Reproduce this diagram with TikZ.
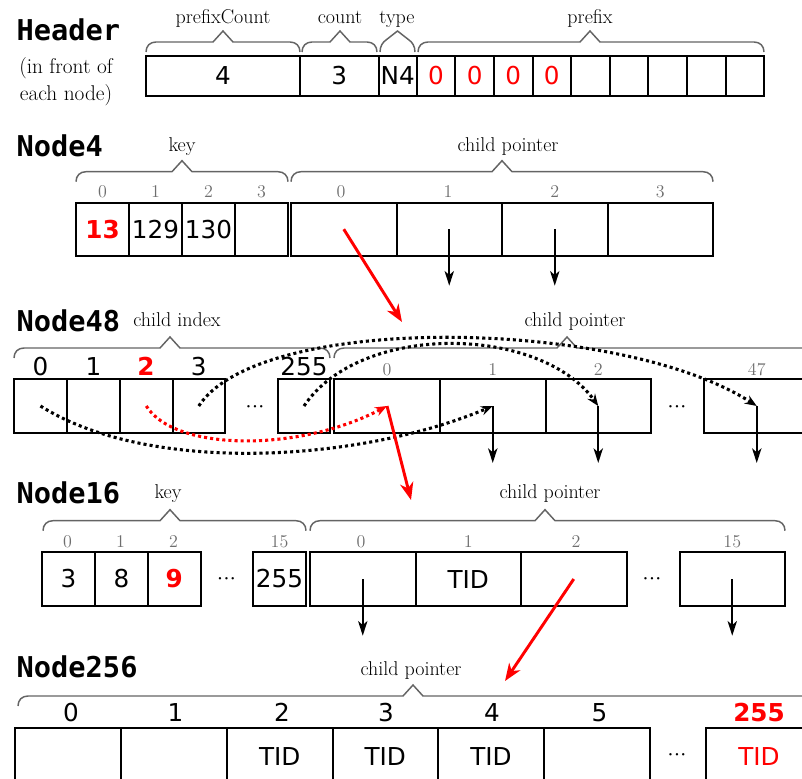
\documentclass[tikz,border=0pt]{standalone}
\usepackage{fontspec}
\usetikzlibrary{arrows.meta}
\newfontfamily\dvs{DejaVu Sans}
\newfontfamily\dvsm{DejaVu Sans Mono}
\definecolor{bgray}{RGB}{100,100,100}
\definecolor{igray}{RGB}{110,110,110}
\newcommand\cel[7][]{\node[cell,minimum width={(#4-#2)*0.75pt},minimum height={(#5-#3)*0.75pt},#1] (#6) at ({(#2+#4)/2},{(#3+#5)/2}) {#7};}
\newcommand\mybrace[4]{\draw[brc] (#1,#4+10) .. controls (#1,#4+4) and (#1+4,#4) .. (#1+10,#4) -- (#3-10,#4) -- (#3,#4-11) -- (#3+10,#4) -- (#2-10,#4) .. controls (#2-4,#4) and (#2,#4+4) .. (#2,#4+10);}
\newcommand\mydots{$\mathord{\cdot}\mathord{\cdot}\mathord{\cdot}$}
\tikzset{
  cell/.style={draw, line width=1.5pt, inner sep=0pt, font=\dvs\fontsize{18.5}{20}\selectfont},
  ttl/.style={anchor=base west, font=\dvsm\bfseries\fontsize{21.5}{24}\selectfont},
  lbl/.style={anchor=base, inner sep=0pt, font=\fontsize{15}{17}\selectfont},
  idx/.style={anchor=base, inner sep=0pt, text=igray, font=\fontsize{13.5}{15}\selectfont},
  bidx/.style={anchor=base, inner sep=0pt, font=\dvs\fontsize{18.5}{20}\selectfont},
  hot/.style={text=red, font=\dvs\bfseries\fontsize{18.5}{20}\selectfont},
  dts/.style={inner sep=0pt, font=\fontsize{18}{18}\selectfont},
  brc/.style={draw=bgray, line width=1.1pt},
  ptr/.style={line width=1.4pt, -{Stealth[length=11pt,width=7pt,inset=3pt]}},
  redarr/.style={red, line width=2.2pt, -{Stealth[length=13pt,width=10pt,inset=4pt]}},
  dotarr/.style={line width=2.3pt, dash pattern=on 2.3pt off 2.3pt, -{Stealth[length=9pt,width=7pt,inset=3pt]}}
}
\begin{document}
\begin{tikzpicture}[x=0.75pt,y=-0.75pt]
\path[use as bounding box] (0,0) rectangle (802,778);
\clip (0,0) rectangle (802,778);
% ---------- Header ----------
\node[ttl] (tHeader) at (12,40) {Header};
\node[align=center, inner sep=0pt, font=\fontsize{16}{20}\selectfont] (hnote) at (66,82) {(in front of\\each node)};
\cel{146}{56}{300}{95.5}{h0}{4}
\cel{300}{56}{378.6}{95.5}{h1}{3}
\cel{378.6}{56}{416.7}{95.5}{h2}{N4}
\cel[text=red]{416.7}{56}{455.3}{95.5}{hp0}{0}
\cel[text=red]{455.3}{56}{493.9}{95.5}{hp1}{0}
\cel[text=red]{493.9}{56}{532.5}{95.5}{hp2}{0}
\cel[text=red]{532.5}{56}{571.1}{95.5}{hp3}{0}
\cel{571.1}{56}{609.7}{95.5}{hp4}{}
\cel{609.7}{56}{648.3}{95.5}{hp5}{}
\cel{648.3}{56}{686.9}{95.5}{hp6}{}
\cel{686.9}{56}{725.5}{95.5}{hp7}{}
\cel{725.5}{56}{764.1}{95.5}{hp8}{}
\mybrace{146}{300}{223}{42}
\mybrace{302}{377}{340}{42}
\draw[brc] (380,52) .. controls (380,46) and (383,42) .. (386,40) -- (397.5,31) -- (409,40) .. controls (412,42) and (415,46) .. (415,52);
\mybrace{418}{764}{590}{42}
\node[lbl] (lpc) at (223,23) {prefixCount};
\node[lbl] (lcnt) at (340,23) {count};
\node[lbl] (ltype) at (397,23) {type};
\node[lbl] (lpre) at (590,23) {prefix};
% ---------- Node4 ----------
\node[ttl] (tN4) at (12,156) {Node4};
\cel[hot]{76}{202.7}{129}{255.7}{n4k0}{13}
\cel{129}{202.7}{182}{255.7}{n4k1}{129}
\cel{182}{202.7}{235}{255.7}{n4k2}{130}
\cel{235}{202.7}{288}{255.7}{n4k3}{}
\cel{291}{202.7}{396.5}{255.7}{n4p0}{}
\cel{396.5}{202.7}{502}{255.7}{n4p1}{}
\cel{502}{202.7}{607.5}{255.7}{n4p2}{}
\cel{607.5}{202.7}{713}{255.7}{n4p3}{}
\mybrace{76}{288}{182}{171.7}
\mybrace{291}{713}{502}{171.7}
\node[lbl] (lk4) at (182,151.7) {key};
\node[lbl] (lcp4) at (508,151.7) {child pointer};
\node[idx] (i4k0) at (102.5,197.3) {0};
\node[idx] (i4k1) at (155.5,197.3) {1};
\node[idx] (i4k2) at (208.5,197.3) {2};
\node[idx] (i4k3) at (261.5,197.3) {3};
\node[idx] (i4p0) at (341,197.3) {0};
\node[idx] (i4p1) at (448,197.3) {1};
\node[idx] (i4p2) at (554.75,197.3) {2};
\node[idx] (i4p3) at (660.25,197.3) {3};
% ---------- Node48 ----------
\node[ttl] (tN48) at (12,331.7) {Node48};
\cel{14}{379.3}{67}{432.7}{n48i0}{}
\cel{67}{379.3}{120}{432.7}{n48i1}{}
\cel{120}{379.3}{172.5}{432.7}{n48i2}{}
\cel{172.5}{379.3}{225}{432.7}{n48i3}{}
\node[dts] (d48a) at (255,407) {\mydots};
\cel{278}{379.3}{330}{432.7}{n48i255}{}
\cel{334}{379.3}{440}{432.7}{n48p0}{}
\cel{440}{379.3}{545.5}{432.7}{n48p1}{}
\cel{545.5}{379.3}{651}{432.7}{n48p2}{}
\node[dts] (d48b) at (677,407) {\mydots};
\cel{704}{379.3}{809.5}{432.7}{n48p47}{}
\mybrace{14}{330}{170}{348}
\mybrace{334}{812}{567}{348}
\node[lbl] (lci) at (177,326.7) {child index};
\node[lbl] (lcp48) at (575,326.7) {child pointer};
\node[bidx] (b48i0) at (40.5,375) {0};
\node[bidx] (b48i1) at (93.5,375) {1};
\node[bidx,hot] (b48i2) at (146,375) {2};
\node[bidx] (b48i3) at (198.75,375) {3};
\node[bidx] (b48i255) at (304,375) {255};
\node[idx] (i48p0) at (387,375) {0};
\node[idx] (i48p1) at (492.75,375) {1};
\node[idx] (i48p2) at (598.25,375) {2};
\node[idx] (i48p47) at (756.75,375) {47};
% ---------- Node16 ----------
\node[ttl] (tN16) at (12,503) {Node16};
\cel{42}{552.3}{95}{605.7}{n16k0}{3}
\cel{95}{552.3}{148}{605.7}{n16k1}{8}
\cel[hot]{148}{552.3}{200.5}{605.7}{n16k2}{9}
\node[dts] (d16a) at (226.5,579) {\mydots};
\cel{253}{552.3}{306}{605.7}{n16k15}{255}
\cel{310}{552.3}{415.5}{605.7}{n16p0}{}
\cel{415.5}{552.3}{521}{605.7}{n16p1}{TID}
\cel{521}{552.3}{626.5}{605.7}{n16p2}{}
\node[dts] (d16b) at (652,579) {\mydots};
\cel{679.5}{552.3}{785}{605.7}{n16p15}{}
\mybrace{43}{306}{170}{520.7}
\mybrace{310}{785}{545}{520.7}
\node[lbl] (lk16) at (168,498) {key};
\node[lbl] (lcp16) at (550,498) {child pointer};
\node[idx] (i16k0) at (67.5,547.3) {0};
\node[idx] (i16k1) at (120.5,547.3) {1};
\node[idx] (i16k2) at (173.5,547.3) {2};
\node[idx] (i16k15) at (279.5,547.3) {15};
\node[idx] (i16p0) at (361,547.3) {0};
\node[idx] (i16p1) at (468.25,547.3) {1};
\node[idx] (i16p2) at (576,547.3) {2};
\node[idx] (i16p15) at (732.25,547.3) {15};
% ---------- Node256 ----------
\node[ttl] (tN256) at (12,677.7) {Node256};
\cel{15}{727.7}{121}{800}{n256c0}{}
\cel{121}{727.7}{227}{800}{n256c1}{}
\cel{227}{727.7}{332.5}{800}{n256c2}{}
\cel{332.5}{727.7}{438}{800}{n256c3}{}
\cel{438}{727.7}{544}{800}{n256c4}{}
\cel{544}{727.7}{649.5}{800}{n256c5}{}
\node[dts] (d256) at (677,755) {\mydots};
\cel{706}{727.7}{812}{800}{n256c255}{}
\node[bidx] (t2) at (279.75,765) {TID};
\node[bidx] (t3) at (385.25,765) {TID};
\node[bidx] (t4) at (491,765) {TID};
\node[bidx,text=red] (t255) at (759,765) {TID};
\mybrace{18}{830}{413}{696}
\node[lbl] (lcp256) at (411,675) {child pointer};
\node[bidx] (b0) at (71,721.7) {0};
\node[bidx] (b1) at (175.5,721.7) {1};
\node[bidx] (b2) at (282,721.7) {2};
\node[bidx] (b3) at (386,721.7) {3};
\node[bidx] (b4) at (492,721.7) {4};
\node[bidx] (b5) at (599.5,721.7) {5};
\node[bidx,hot] (b255) at (759,721.7) {255};
% ---------- connectors ----------
\coordinate (e41) at (449.25,285.7);
\coordinate (e42) at (554.75,285.7);
\draw[ptr] (n4p1.center) -- (e41);
\draw[ptr] (n4p2.center) -- (e42);
\coordinate (e481) at (492.75,463);
\coordinate (e482) at (598.25,463);
\coordinate (e4847) at (756.75,463);
\draw[ptr] (n48p1.center) -- (e481);
\draw[ptr] (n48p2.center) -- (e482);
\draw[ptr] (n48p47.center) -- (e4847);
\coordinate (e160) at (362.75,635.7);
\coordinate (e1615) at (732.25,635.7);
\draw[ptr] (n16p0.center) -- (e160);
\draw[ptr] (n16p15.center) -- (e1615);
\draw[dotarr] (n48i0.center) .. controls (150,475) and (360,462) .. (n48p1.center);
\draw[dotarr] (n48i3.center) .. controls (260,312) and (620,318) .. (n48p47.center);
\draw[dotarr] (n48i255.center) .. controls (360,322) and (540,325) .. (n48p2.center);
\draw[dotarr,red] (n48i2.center) .. controls (175,452) and (300,452) .. (n48p0.center);
\coordinate (r1) at (402,322);
\coordinate (r2) at (411,500);
\coordinate (r3) at (505,681);
\draw[redarr] (n4p0.center) -- (r1);
\draw[redarr] (n48p0.center) -- (r2);
\draw[redarr] (n16p2.center) -- (r3);
\end{tikzpicture}
\end{document}
